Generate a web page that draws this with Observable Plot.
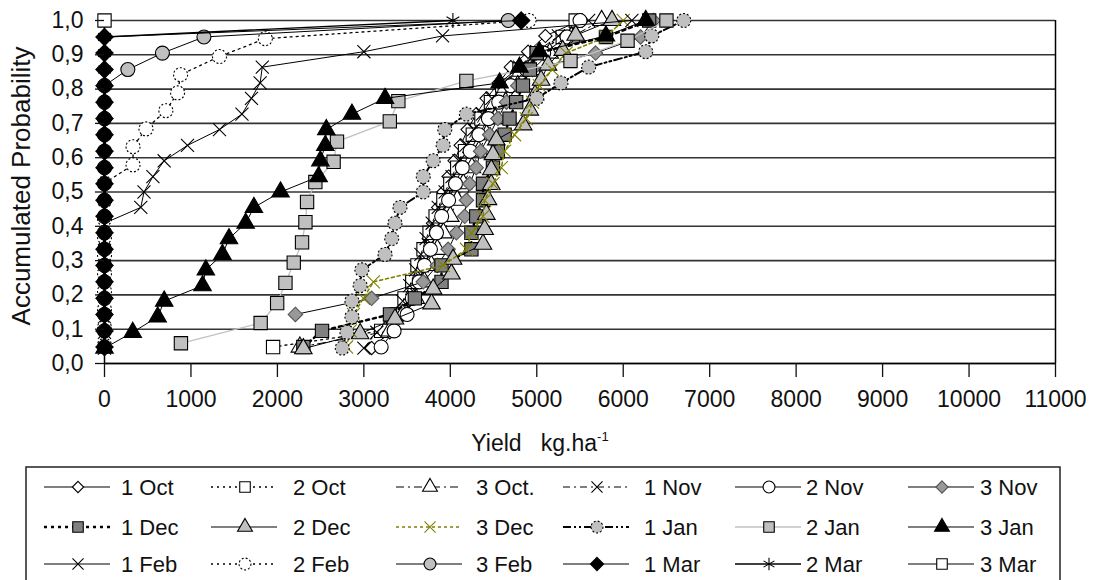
<!DOCTYPE html>
<html><head><meta charset="utf-8">
<script src="https://cdn.jsdelivr.net/npm/d3@7"></script>
<script src="https://cdn.jsdelivr.net/npm/@observablehq/plot@0.6"></script>
<style>
body{margin:0;background:#fff;}
#wrap{width:1100px;height:580px;overflow:hidden;background:#fff;}
#wrap svg{display:block;}
</style></head><body><div id="wrap"></div>
<script>
// ---------- data ----------
const seriesNames = ["1 Oct","2 Oct","3 Oct.","1 Nov","2 Nov","3 Nov","1 Dec","2 Dec","3 Dec","1 Jan","2 Jan","3 Jan","1 Feb","2 Feb","3 Feb","1 Mar","2 Mar","3 Mar"];
const xTicks = [0,1000,2000,3000,4000,5000,6000,7000,8000,9000,10000,11000];
const yTicks = [0,0.1,0.2,0.3,0.4,0.5,0.6,0.7,0.8,0.9,1.0];

// accumulated probability levels (plotting positions)
const prob22 = [0.045,0.091,0.136,0.182,0.227,0.273,0.318,0.364,0.409,0.455,0.5,0.545,0.591,0.636,0.682,0.727,0.773,0.818,0.864,0.909,0.955,1.0];
const prob21 = [0.048,0.095,0.143,0.19,0.238,0.286,0.333,0.381,0.429,0.476,0.524,0.571,0.619,0.667,0.714,0.762,0.81,0.857,0.905,0.952,1.0];
const prob23 = [0.043,0.087,0.13,0.174,0.217,0.261,0.304,0.348,0.391,0.435,0.478,0.522,0.565,0.609,0.652,0.696,0.739,0.783,0.826,0.87,0.913,0.957,1.0];
const prob19 = [0.053,0.105,0.158,0.211,0.263,0.316,0.368,0.421,0.474,0.526,0.579,0.632,0.684,0.737,0.789,0.842,0.895,0.947,1.0];
const prob17 = [0.059,0.118,0.176,0.235,0.294,0.353,0.412,0.471,0.529,0.588,0.647,0.706,0.765,0.824,0.882,0.941,1.0];
const prob3Nov = [0.143,0.19,0.238,0.286,0.333,0.381,0.429,0.476,0.524,0.571,0.619,0.667,0.714,0.762,0.81,0.857,0.905,0.952,1.0];
const prob3Mar = [1.0];

// yields (kg/ha)
const yield1Oct = [3090,3300,3420,3520,3580,3640,3700,3750,3800,3860,3920,3980,4050,4120,4200,4300,4420,4560,4700,4900,5100,5500];
const yield2Oct = [1950,3200,3380,3470,3560,3620,3690,3760,3830,3920,4000,4080,4170,4260,4360,4470,4600,4800,5000,5300,5450];
const yield3Oct = [2260,3300,3450,3600,3700,3780,3850,3920,4000,4080,4150,4250,4330,4420,4520,4640,4780,4950,5150,5400,5750];
const yield1Nov = [3000,3150,3300,3450,3530,3600,3660,3720,3790,3860,3940,4020,4100,4180,4270,4370,4480,4620,4800,5000,5250,5600];
const yield2Nov = [3200,3350,3500,3560,3640,3700,3770,3840,3900,3980,4060,4140,4230,4330,4440,4560,4700,4880,5080,5350,5500];
const yield3Nov = [2208,3090,3687,3850,3975,4071,4167,4186,4225,4300,4350,4455,4550,4650,4780,4950,5680,6200,6350];
const yield1Dec = [2300,2516,3302,3590,3898,3898,4244,4244,4300,4378,4378,4493,4550,4628,4685,4762,4840,4920,5000,5800,6300];
const yield2Dec = [2300,2957,3360,3783,3802,4013,4032,4378,4397,4417,4436,4474,4474,4493,4532,4843,4920,4980,5050,5130,5300,5450,5870];
const yield3Dec = [2800,2842,2880,2995,3110,3917,4186,4244,4378,4397,4493,4590,4628,4743,4878,4950,5030,5180,5340,5800,6000];
const yield1Jan = [2750,2804,2862,2862,2957,2977,3245,3322,3360,3418,3687,3687,3802,3917,3936,4186,5000,5280,5600,6260,6330,6700];
const yield2Jan = [884,1806,1997,2093,2189,2285,2324,2343,2439,2650,2689,3300,3399,4186,5390,6050,6500];
const yield3Jan = [0,327,615,691,1134,1172,1364,1440,1633,1728,2036,2477,2497,2554,2566,2862,3245,4570,4800,5030,5800,6260];
const yield1Feb = [0,0,0,0,0,0,0,0,0,420,457,560,690,960,1330,1590,1700,1800,1825,3000,3910,6100];
const yield2Feb = [0,0,0,0,0,0,0,0,0,0,330,330,480,710,845,880,1330,1860,4910];
const yield3Feb = [0,0,0,0,0,0,0,0,0,0,0,0,0,0,0,0,0,270,670,1150,4670];
const yield1Mar = [0,0,0,0,0,0,0,0,0,0,0,0,0,0,0,0,0,0,0,0,4820];
const yield2Mar = [0,0,0,0,0,0,0,0,0,0,0,0,0,0,0,0,0,0,0,0,4030];
const yield3Mar = [0];

const seriesYields = [yield1Oct,yield2Oct,yield3Oct,yield1Nov,yield2Nov,yield3Nov,yield1Dec,yield2Dec,yield3Dec,yield1Jan,yield2Jan,yield3Jan,yield1Feb,yield2Feb,yield3Feb,yield1Mar,yield2Mar,yield3Mar];
const seriesProbs = [prob22,prob21,prob21,prob22,prob21,prob3Nov,prob21,prob23,prob21,prob22,prob17,prob22,prob22,prob19,prob21,prob21,prob21,prob3Mar];

// ---------- styles ----------
const styles = [
  {sym:"diamond2", r:6,   fill:"#fff",    ms:"#000", line:"#000",    lw:1,   dash:null},
  {sym:"square",   r:7.5, fill:"#fff",    ms:"#000", line:"#000",    lw:1.3, dash:"2,4"},
  {sym:"triangle", r:6.5, fill:"#fff",    ms:"#000", line:"#000",    lw:1,   dash:"8,4,2,4"},
  {sym:"times",    r:6,   fill:"none",    ms:"#000", line:"#000",    lw:1,   dash:"7,4,2,4"},
  {sym:"circle",   r:7,   fill:"#fff",    ms:"#000", line:"#000",    lw:1,   dash:null},
  {sym:"diamond2", r:6.5, fill:"#999",    ms:"#555", line:"#000",    lw:1,   dash:null},
  {sym:"square",   r:7.5, fill:"#808080", ms:"#000", line:"#000",    lw:2.5, dash:"3,4"},
  {sym:"triangle", r:6.5, fill:"#c0c0c0", ms:"#000", line:"#000",    lw:1,   dash:null},
  {sym:"times",    r:6,   fill:"none",    ms:"#808000", line:"#808000", lw:1.6, dash:"3,3"},
  {sym:"circle",   r:7,   fill:"#c0c0c0", ms:"#000", line:"#000",    lw:2,   dash:"8,3,2,3,2,3", mdash:"2,2"},
  {sym:"square",   r:7.5, fill:"#c0c0c0", ms:"#000", line:"#c0c0c0", lw:1.3, dash:null},
  {sym:"triangle", r:6.5, fill:"#000",    ms:"#000", line:"#000",    lw:1,   dash:null},
  {sym:"times",    r:6,   fill:"none",    ms:"#000", line:"#000",    lw:1,   dash:null},
  {sym:"circle",   r:7,   fill:"#fff",    ms:"#000", line:"#000",    lw:1.3, dash:"2,4", mdash:"2,2"},
  {sym:"circle",   r:7,   fill:"#c0c0c0", ms:"#000", line:"#000",    lw:1,   dash:null},
  {sym:"diamond2", r:7.8, fill:"#000",    ms:"#000", line:"#000",    lw:1,   dash:null},
  {sym:"asterisk", r:7,   fill:"none",    ms:"#000", line:"#000",    lw:1.4, dash:null},
  {sym:"square",   r:7.5, fill:"#fff",    ms:"#000", line:"#000",    lw:1,   dash:null}
];

const FONT = '"Liberation Sans", Arial, sans-serif';

// ---------- plot ----------
const marks = [
  Plot.ruleY(yTicks, {stroke:"#333", strokeWidth:1.6}),
  Plot.ruleX([0], {stroke:"#000", strokeWidth:1.5}),
  Plot.ruleX([11000], {stroke:"#000", strokeWidth:1.5})
];
seriesNames.forEach((name, i) => {
  const data = seriesYields[i].map((v, k) => ({x: v, p: seriesProbs[i][k]}));
  const s = styles[i];
  marks.push(Plot.line(data, {x:"x", y:"p", stroke:s.line, strokeWidth:s.lw, strokeDasharray:s.dash || undefined}));
  marks.push(Plot.dot(data, {x:"x", y:"p", symbol:s.sym, r:s.r, fill:s.fill, stroke:s.ms, strokeWidth:1.1, strokeDasharray:s.mdash || undefined}));
});
marks.push(Plot.ruleY([0], {stroke:"#000", strokeWidth:1.5}));
marks.push(Plot.axisX({ticks:xTicks, tickSize:14, tickPadding:13, tickFormat:d => String(d), label:null, strokeWidth:1.3}));
marks.push(Plot.axisY({ticks:yTicks, tickSize:9, tickPadding:12, tickFormat:d => d.toFixed(1).replace(".", ","), label:null, strokeWidth:1.3}));

const chart = Plot.plot({
  width:1100, height:462,
  marginLeft:104, marginRight:45, marginTop:20, marginBottom:99,
  x:{domain:[0,11000]},
  y:{domain:[0,1]},
  style:{fontFamily:FONT, fontSize:"23px", color:"#111", background:"#fff", overflow:"visible"},
  marks
});
document.getElementById("wrap").appendChild(chart);

const svg = d3.select(chart);
// y title
svg.append("text")
  .attr("transform","translate(30,186) rotate(-90)")
  .attr("text-anchor","middle")
  .attr("font-family",FONT).attr("font-size",26).attr("fill","#111")
  .text("Accumulated Probability");
// x title with superscript
const xt = svg.append("text")
  .attr("x",540).attr("y",451)
  .attr("font-family",FONT).attr("font-size",23).attr("fill","#111")
  .attr("xml:space","preserve");
xt.append("tspan").text("Yield   kg.ha");
xt.append("tspan").attr("dy",-10).attr("font-size",13).text("-1");

// ---------- legend (below the chart) ----------
const leg = d3.select("#wrap").append("svg").attr("width",1100).attr("height",118);
leg.append("rect").attr("x",26).attr("y",5).attr("width",1034).attr("height",160)
  .attr("fill","#fff").attr("stroke","#222").attr("stroke-width",1.5);
const colMarker = [78,245,430,597,769,942];
const colText = [121,293,476,644,806,980];
const rowY = [25,65,102];
const symMap = {diamond2:d3.symbolDiamond2, square:d3.symbolSquare, triangle:d3.symbolTriangle, times:d3.symbolTimes, circle:d3.symbolCircle, asterisk:d3.symbolAsterisk};
seriesNames.forEach((name, i) => {
  const s = styles[i];
  const cx = colMarker[i % 6], cy = rowY[Math.floor(i / 6)];
  leg.append("line").attr("x1",cx-34).attr("x2",cx+32).attr("y1",cy).attr("y2",cy)
    .attr("stroke",s.line).attr("stroke-width",s.lw).attr("stroke-dasharray",s.dash || null);
  const rr = Math.min(s.r, 7) * 0.85;
  leg.append("path").attr("d",d3.symbol(symMap[s.sym], Math.PI*rr*rr)())
    .attr("transform",`translate(${cx},${cy})`)
    .attr("fill",s.fill).attr("stroke",s.ms).attr("stroke-width",1.1)
    .attr("stroke-dasharray",s.mdash || null);
  leg.append("text").attr("x",colText[i % 6]).attr("y",cy).attr("dy","0.35em")
    .attr("font-family",FONT).attr("font-size",22).attr("fill","#111").text(name);
});
</script></body></html>
